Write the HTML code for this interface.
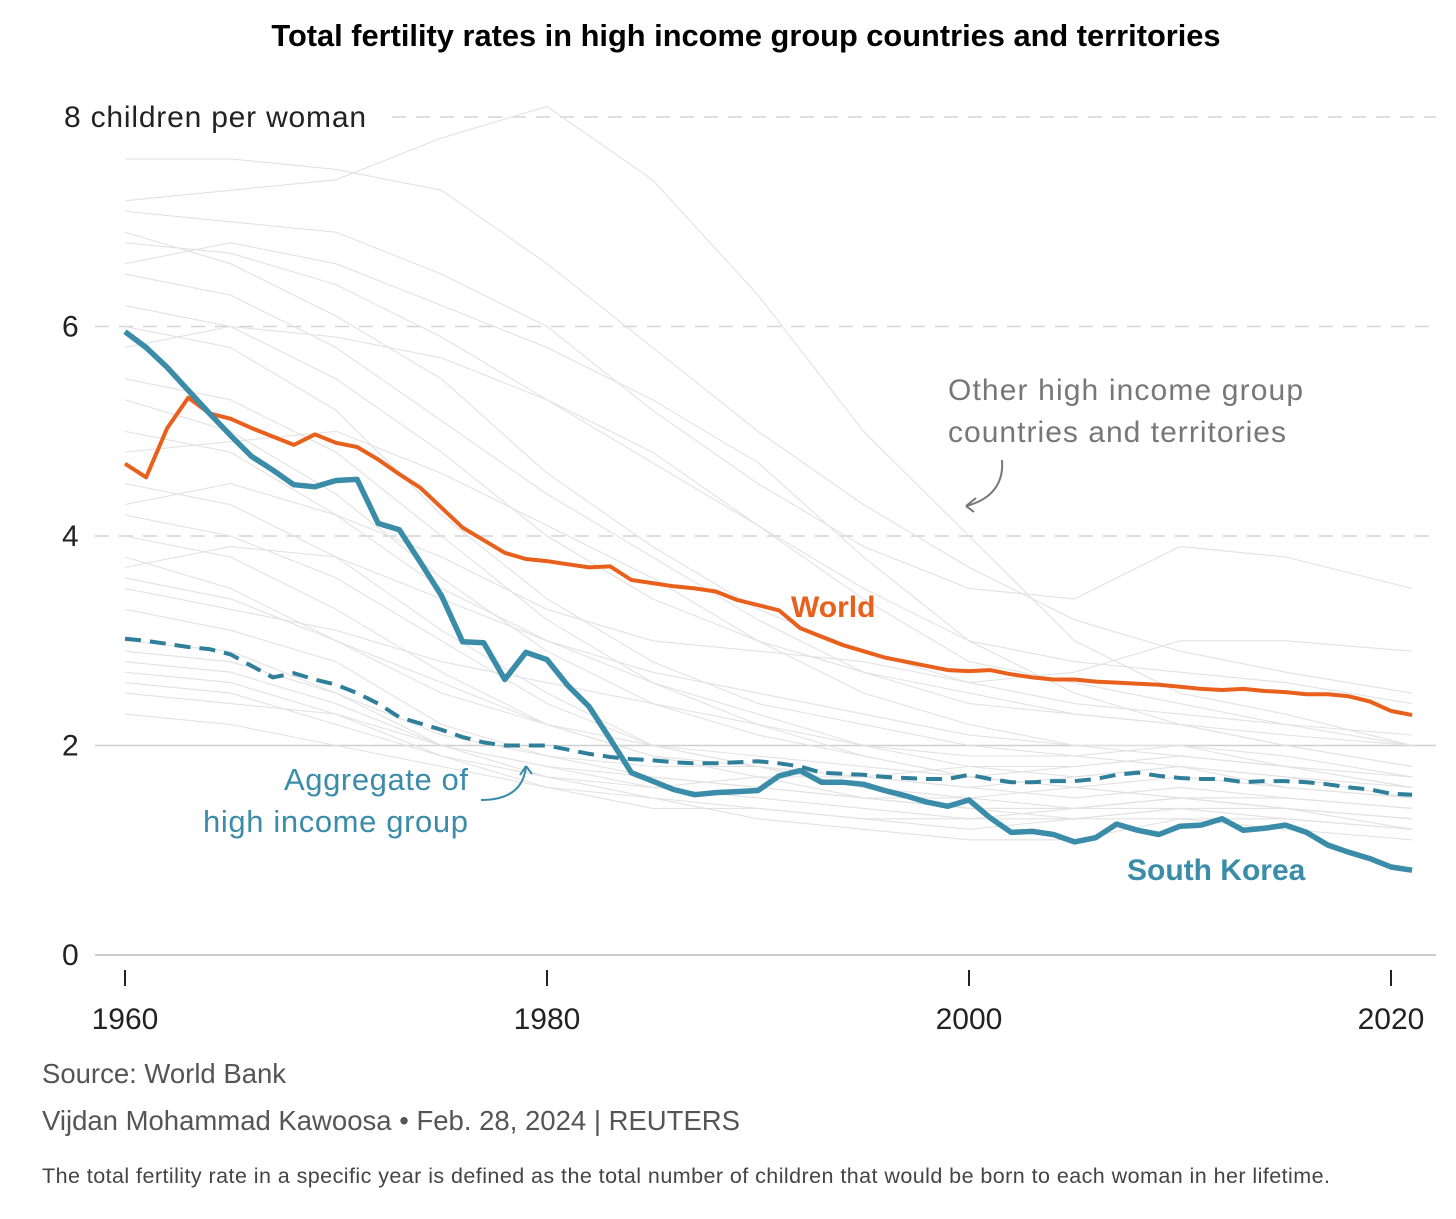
<!DOCTYPE html>
<html><head><meta charset="utf-8"><style>
html,body{margin:0;padding:0;background:#fff;}
svg{display:block;font-family:"Liberation Sans","DejaVu Sans",sans-serif;}
</style></head><body>
<svg id="chart" width="1456" height="1219" viewBox="0 0 1456 1219" xmlns="http://www.w3.org/2000/svg">
<text x="746" y="46" text-anchor="middle" font-size="30.8" font-weight="bold" fill="#000">Total fertility rates in high income group countries and territories</text>
<g id="grid"></g>
<g id="gray"></g>
<g id="main"></g>
<g id="axes"></g>
<text x="948" y="400" font-size="30" fill="#777" textLength="355">Other high income group</text>
<text x="948" y="442" font-size="30" fill="#777" textLength="338">countries and territories</text>
<path d="M1002 460 C1004 485 990 500 966 506 M966 506 L976 498 M966 506 L974 512" fill="none" stroke="#777" stroke-width="2"/>
<text x="791" y="617" font-size="30" font-weight="bold" fill="#e8601c">World</text>
<text x="1127" y="880" font-size="30" font-weight="bold" fill="#3a8ca8">South Korea</text>
<text x="284" y="790" font-size="31" fill="#3a8ca8" textLength="184">Aggregate of</text>
<text x="203" y="832" font-size="31" fill="#3a8ca8" textLength="265">high income group</text>
<path d="M481 800 C510 800 524 788 526 766 M526 766 L520 775 M526 766 L532 774" fill="none" stroke="#3a8ca8" stroke-width="2"/>
<text x="42" y="1083" font-size="27.5" fill="#555">Source: World Bank</text>
<text x="42" y="1130" font-size="27.5" fill="#555">Vijdan Mohammad Kawoosa • Feb. 28, 2024 | REUTERS</text>
<text x="42" y="1183" font-size="21.5" fill="#444" textLength="1288">The total fertility rate in a specific year is defined as the total number of children that would be born to each woman in her lifetime.</text>
</svg>
<script>
const years = [];
for (let y = 1960; y <= 2021; y++) years.push(y);
const southKorea = [5.95,5.80,5.61,5.39,5.17,4.96,4.76,4.63,4.49,4.47,4.53,4.54,4.12,4.06,3.75,3.43,2.99,2.98,2.63,2.89,2.82,2.57,2.37,2.06,1.74,1.66,1.58,1.53,1.55,1.56,1.57,1.71,1.76,1.65,1.65,1.63,1.57,1.52,1.46,1.42,1.48,1.31,1.17,1.18,1.15,1.08,1.12,1.25,1.19,1.15,1.23,1.24,1.30,1.19,1.21,1.24,1.17,1.05,0.98,0.92,0.84,0.81];
const world = [4.69,4.56,5.03,5.32,5.17,5.12,5.03,4.95,4.87,4.97,4.89,4.85,4.73,4.59,4.46,4.27,4.08,3.96,3.84,3.78,3.76,3.73,3.70,3.71,3.58,3.55,3.52,3.50,3.47,3.39,3.34,3.29,3.12,3.04,2.96,2.90,2.84,2.80,2.76,2.72,2.71,2.72,2.68,2.65,2.63,2.63,2.61,2.60,2.59,2.58,2.56,2.54,2.53,2.54,2.52,2.51,2.49,2.49,2.47,2.42,2.33,2.29];
const aggregate = [3.02,3.00,2.97,2.94,2.92,2.87,2.76,2.65,2.69,2.63,2.58,2.50,2.40,2.27,2.21,2.15,2.08,2.03,2.00,2.00,2.00,1.96,1.92,1.89,1.87,1.86,1.84,1.83,1.83,1.84,1.85,1.83,1.80,1.74,1.73,1.72,1.70,1.69,1.68,1.68,1.72,1.68,1.65,1.65,1.66,1.66,1.68,1.72,1.74,1.71,1.69,1.68,1.68,1.65,1.66,1.66,1.65,1.63,1.60,1.58,1.54,1.53];
const grayYears = [1960,1965,1970,1975,1980,1985,1990,1995,2000,2005,2010,2015,2021];
const g01=[7.6,7.6,7.5,7.3,6.6,5.8,5.0,4.3,3.7,3.2,2.9,2.7,2.5];
const g02=[7.2,7.3,7.4,7.8,8.1,7.4,6.3,5.0,4.0,3.0,2.5,2.3,2.0];
const g03=[7.1,7.0,6.9,6.5,6.0,5.2,4.5,3.9,3.5,3.4,3.9,3.8,3.5];
const g04=[6.8,6.7,6.4,5.9,5.3,4.7,4.1,3.5,3.0,2.8,2.7,2.6,2.4];
const g05=[6.6,6.8,6.6,6.2,5.8,5.3,4.7,3.8,3.0,2.5,2.2,2.0,1.8];
const g06=[6.5,6.3,5.8,5.1,4.4,3.8,3.2,2.7,2.4,2.3,2.2,2.1,2.0];
const g07=[6.2,6.0,5.5,4.8,4.0,3.4,3.0,2.7,2.5,2.3,2.2,2.0,1.8];
const g08=[6.0,5.8,5.2,4.2,3.4,2.8,2.4,2.2,2.0,1.9,1.8,1.6,1.5];
const g09=[5.8,6.0,5.9,5.7,5.3,4.8,4.1,3.4,2.8,2.6,2.4,2.2,2.0];
const g10=[5.5,5.3,4.8,4.0,3.2,2.6,2.2,1.9,1.7,1.6,1.5,1.4,1.3];
const g11=[5.3,5.0,4.4,3.6,2.9,2.4,2.1,1.9,1.7,1.6,1.5,1.4,1.2];
const g12=[5.0,4.8,4.2,3.5,3.0,2.6,2.3,2.0,1.8,1.7,1.8,1.7,1.5];
const g13=[4.8,4.9,5.0,4.6,4.1,3.6,3.0,2.5,2.2,2.0,2.0,1.9,1.7];
const g14=[4.5,4.3,3.8,3.1,2.5,2.0,1.8,1.6,1.5,1.4,1.4,1.3,1.2];
const g15=[4.2,4.0,3.6,3.0,2.4,2.0,1.8,1.6,1.4,1.3,1.3,1.2,1.1];
const g16=[4.0,3.8,3.3,2.7,2.2,1.9,1.8,1.7,1.6,1.5,1.6,1.5,1.4];
const g17=[3.8,3.5,3.0,2.5,2.2,2.0,1.9,1.8,1.7,1.8,1.9,1.8,1.6];
const g18=[3.6,3.4,3.0,2.6,2.2,1.9,1.7,1.5,1.4,1.4,1.5,1.5,1.4];
const g19=[3.5,3.3,3.1,2.8,2.6,2.4,2.2,2.0,1.9,1.9,2.0,1.8,1.7];
const g20=[3.3,3.1,2.8,2.2,1.9,1.7,1.6,1.5,1.5,1.6,1.7,1.6,1.5];
const g21=[3.0,2.9,2.5,2.0,1.8,1.6,1.5,1.4,1.3,1.3,1.4,1.4,1.3];
const g22=[2.9,2.8,2.5,2.1,1.9,1.8,1.8,1.7,1.8,1.8,1.9,1.8,1.7];
const g23=[2.8,2.7,2.4,2.0,1.7,1.6,1.7,1.7,1.6,1.7,1.8,1.7,1.6];
const g24=[2.7,2.6,2.3,1.9,1.6,1.4,1.4,1.3,1.2,1.3,1.4,1.3,1.2];
const g25=[2.6,2.5,2.2,1.9,1.7,1.5,1.4,1.3,1.3,1.4,1.5,1.5,1.4];
const g26=[2.5,2.4,2.3,2.0,1.8,1.7,1.6,1.5,1.4,1.4,1.5,1.4,1.3];
const g27=[3.7,3.9,3.8,3.4,3.0,2.7,2.5,2.3,2.1,2.0,1.9,1.8,1.6];
const g28=[4.3,4.5,4.2,3.8,3.3,3.0,2.9,2.8,2.6,2.7,3.0,3.0,2.9];
const g29=[2.3,2.2,2.0,1.8,1.6,1.5,1.3,1.2,1.1,1.1,1.3,1.3,1.2];
const g30=[6.9,6.6,6.1,5.5,4.6,3.9,3.3,2.9,2.6,2.4,2.3,2.2,2.1];
const grayData=[g01,g02,g03,g04,g05,g06,g07,g08,g09,g10,g11,g12,g13,g14,g15,g16,g17,g18,g19,g20,g21,g22,g23,g24,g25,g26,g27,g28,g29,g30];
const yTicks=[0,2,4,6,8];
const yTickLabels=["0","2","4","6","8 children per woman"];
const xTicks=[1960,1980,2000,2020];

const NS="http://www.w3.org/2000/svg";
const xScale=y=>125+(y-1960)*21.1;
const yScale=v=>955-v*104.75;
function mk(tag,parent){const e=document.createElementNS(NS,tag);document.getElementById(parent).appendChild(e);return e;}
function pts(xs,vs){return vs.map((v,i)=>xScale(xs[i]).toFixed(1)+","+yScale(v).toFixed(1)).join(" ");}

yTicks.forEach((t,i)=>{
  if(t>0){
    const l=mk("line","grid");
    
    
    l.setAttribute("x1",i===4?392:95);l.setAttribute("x2",1436);
    l.setAttribute("y1",yScale(t));l.setAttribute("y2",yScale(t));
    l.setAttribute("stroke",t===2?"#cfcfcf":"#d4d4d4");l.setAttribute("stroke-width","1.5");
    if(t!==2)l.setAttribute("stroke-dasharray","14 10");
  }
  const tx=mk("text","axes");
  
  
  tx.setAttribute("x",i===4?64:62);tx.setAttribute("y",yScale(t)+10);
  tx.setAttribute("font-size","30");tx.setAttribute("fill","#222");
  if(i===4)tx.setAttribute("textLength","302");
  tx.textContent=yTickLabels[i];
});
const ax=mk("line","axes");


ax.setAttribute("x1",95);ax.setAttribute("x2",1436);ax.setAttribute("y1",955);ax.setAttribute("y2",955);
ax.setAttribute("stroke","#bbb");ax.setAttribute("stroke-width","1.5");
xTicks.forEach(t=>{
  const tk=mk("line","axes");
  
  
  tk.setAttribute("x1",xScale(t));tk.setAttribute("x2",xScale(t));tk.setAttribute("y1",970);tk.setAttribute("y2",986);
  tk.setAttribute("stroke","#222");tk.setAttribute("stroke-width","2");
  const tx=mk("text","axes");
  
  
  tx.setAttribute("x",xScale(t));tx.setAttribute("y",1029);tx.setAttribute("text-anchor","middle");
  tx.setAttribute("font-size","30");tx.setAttribute("fill","#222");
  tx.textContent=t;
});
grayData.forEach(s=>{
  const p=mk("polyline","gray");
  
  
  p.setAttribute("points",pts(grayYears,s));
  p.setAttribute("fill","none");p.setAttribute("stroke","#e2e2e2");p.setAttribute("stroke-width","1.1");
});
const pa=mk("polyline","main");


pa.setAttribute("points",pts(years,aggregate));
pa.setAttribute("fill","none");pa.setAttribute("stroke","#2f7f9b");pa.setAttribute("stroke-width","4");pa.setAttribute("stroke-dasharray","16 9");
const pw=mk("polyline","main");


pw.setAttribute("points",pts(years,world));
pw.setAttribute("fill","none");pw.setAttribute("stroke","#e8601c");pw.setAttribute("stroke-width","4");pw.setAttribute("stroke-linejoin","round");
const pk=mk("polyline","main");


pk.setAttribute("points",pts(years,southKorea));
pk.setAttribute("fill","none");pk.setAttribute("stroke","#3a8ca8");pk.setAttribute("stroke-width","5.5");pk.setAttribute("stroke-linejoin","round");
</script>
</body></html>
